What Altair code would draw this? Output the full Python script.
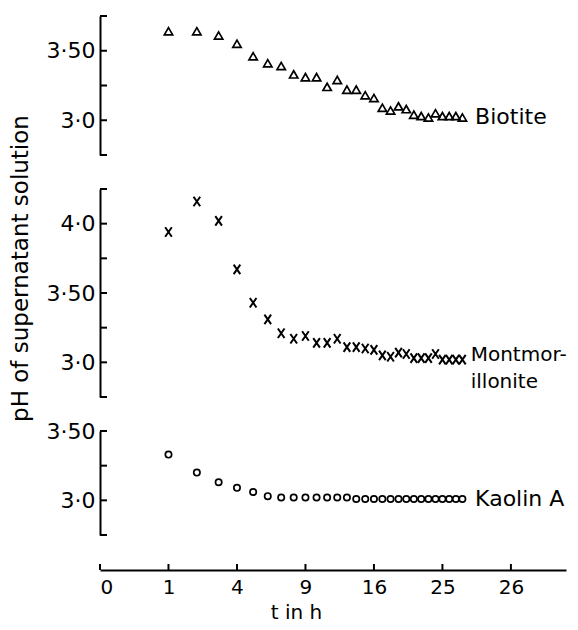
import altair as alt
import pandas as pd

# ---- data (t in hours, pH of supernatant solution) ----
hours = list(range(1, 29))
biotite_ph = [3.64, 3.64, 3.61, 3.55, 3.46, 3.41, 3.39, 3.33, 3.31, 3.31,
              3.24, 3.29, 3.22, 3.22, 3.18, 3.16, 3.09, 3.07, 3.10, 3.08,
              3.04, 3.03, 3.02, 3.05, 3.03, 3.03, 3.03, 3.02]
montmor_ph = [3.94, 4.16, 4.02, 3.67, 3.43, 3.31, 3.21, 3.17, 3.19, 3.14,
              3.14, 3.17, 3.11, 3.11, 3.10, 3.09, 3.05, 3.04, 3.07, 3.06,
              3.03, 3.03, 3.03, 3.06, 3.02, 3.02, 3.02, 3.02]
kaolin_ph = [3.33, 3.20, 3.13, 3.09, 3.06, 3.03, 3.02, 3.02, 3.02, 3.02,
             3.02, 3.02, 3.02, 3.01, 3.01, 3.01, 3.01, 3.01, 3.01, 3.01,
             3.01, 3.01, 3.01, 3.01, 3.01, 3.01, 3.01, 3.01]

x_tick_values = [0, 1, 4, 9, 16, 25, 36]
x_tick_labels = ["0", "1", "4", "9", "16", "25", "26"]

biotite_ticks = [2.75, 3.0, 3.25, 3.5, 3.75]
montmor_ticks = [2.75, 3.0, 3.25, 3.5, 3.75, 4.0, 4.25]
kaolin_ticks = [2.75, 3.0, 3.25, 3.5]

y_label_values = [3.0, 3.5, 4.0]
y_label_texts = ["3·0", "3·50", "4·0"]

label_texts = ["Biotite", "Montmor-", "illonite", "Kaolin A"]
label_t = [30, 29.3, 29.3, 30]
label_ph = [3.02, 3.05, 2.86, 3.01]
label_panel = ["Biotite", "Montmorillonite", "Montmorillonite", "Kaolin A"]

FONT = "DejaVu Sans"
X_SCALE = alt.Scale(type="sqrt", domain=[0, 46.3], nice=False)
W = 466
PX_PER_PH = 138.6

y_label_expr = "".join(
    f"datum.value == {v} ? '{t}' : " for v, t in zip(y_label_values, y_label_texts)
) + "''"
x_label_expr = "".join(
    f"datum.value == {v} ? '{t}' : " for v, t in zip(x_tick_values, x_tick_labels)
) + "''"

X_SHAPE = "M-0.7,-1L0.7,1M0.7,-1L-0.7,1"


def panel(name, values, domain, ticks, shape, size, stroke_w, label_size,
          xaxis=False, ytitle=False):
    height = round((domain[1] - domain[0]) * PX_PER_PH)
    yscale = alt.Scale(domain=domain, nice=False, zero=False)
    yvals = [v for v in y_label_values if domain[0] <= v <= domain[1]]
    yaxis_kw = dict(
        values=yvals, labelExpr=y_label_expr, domainColor="black", domainWidth=2,
        ticks=False, tickSize=0, labelPadding=5, labelFontSize=22, labelFont=FONT,
        labelColor="black", grid=False,
    )
    if ytitle:
        yaxis_kw.update(
            title="pH of supernatant solution", titleFont=FONT, titleFontSize=23,
            titleFontWeight="normal", titleColor="black", titleAngle=270,
            titleX=-80, titleY=79, titleAlign="center", titleBaseline="middle",
        )
    else:
        yaxis_kw["title"] = None
    yaxis = alt.Axis(**yaxis_kw)

    if xaxis:
        xaxis_obj = alt.Axis(
            values=x_tick_values, labelExpr=x_label_expr, offset=35,
            domainColor="black", domainWidth=2, ticks=False, tickSize=0,
            labelPadding=7, labelFontSize=20, labelFont=FONT, labelColor="black",
            grid=False, title="t in h", titleFont=FONT, titleFontSize=20,
            titleFontWeight="normal", titleColor="black", titleX=196, titleY=42,
            titleAlign="center", titleBaseline="middle",
        )
    else:
        xaxis_obj = None

    df = pd.DataFrame({"t": hours, "ph": values})
    pts = alt.Chart(df).mark_point(
        shape=shape, filled=False, color="black", strokeWidth=stroke_w, size=size,
        opacity=1
    ).encode(
        x=alt.X("t:Q", scale=X_SCALE, axis=xaxis_obj),
        y=alt.Y("ph:Q", scale=yscale, axis=yaxis),
    )

    tdf = pd.DataFrame({"ph": ticks})
    yt = alt.Chart(tdf).mark_rule(color="black", strokeWidth=2).encode(
        y=alt.Y("ph:Q", scale=yscale), x=alt.value(0), x2=alt.value(7)
    )

    ldf = pd.DataFrame({"t": label_t, "ph": label_ph, "text": label_texts,
                        "panel": label_panel})
    ldf = ldf[ldf["panel"] == name]
    lab = alt.Chart(ldf).mark_text(
        align="left", baseline="middle", font=FONT, fontSize=label_size,
        color="black"
    ).encode(
        x=alt.X("t:Q", scale=X_SCALE), y=alt.Y("ph:Q", scale=yscale), text="text:N"
    )

    layers = [yt, pts, lab]
    if xaxis:
        xdf = pd.DataFrame({"t": x_tick_values})
        xt = alt.Chart(xdf).mark_rule(color="black", strokeWidth=2).encode(
            x=alt.X("t:Q", scale=X_SCALE),
            y=alt.value(height + 35), y2=alt.value(height + 29),
        )
        layers.append(xt)
    return alt.layer(*layers).properties(width=W, height=height)


b = panel("Biotite", biotite_ph, [2.75, 3.75], biotite_ticks, "triangle-up", 70,
          1.7, 22)
m = panel("Montmorillonite", montmor_ph, [2.75, 4.25], montmor_ticks, X_SHAPE, 90,
          2.0, 20, ytitle=True)
k = panel("Kaolin A", kaolin_ph, [2.75, 3.5], kaolin_ticks, "circle", 40, 1.7, 22,
          xaxis=True)

chart = alt.vconcat(b, m, k, spacing=34, bounds="flush").properties(
    padding={"left": 0, "top": 7, "right": 0, "bottom": 0},
    background="white",
).configure_view(stroke=None)

chart.save("out.html", embed_options={"renderer": "svg", "actions": False})
